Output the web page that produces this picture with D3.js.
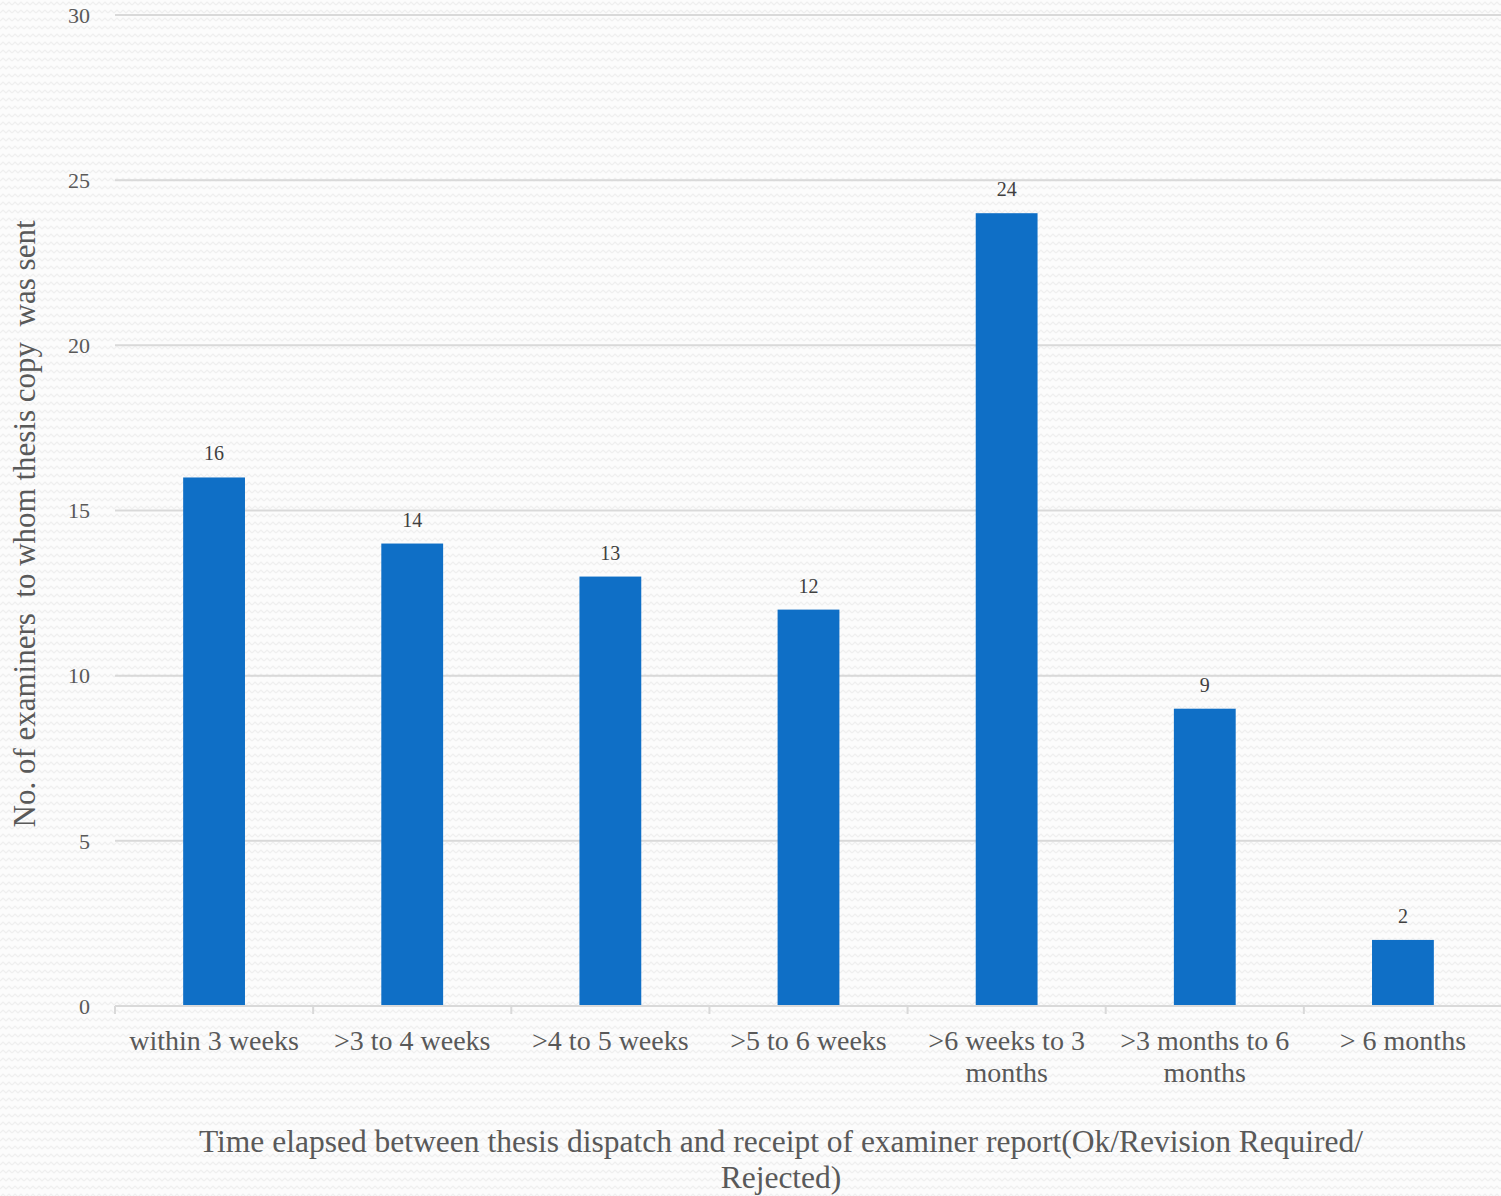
<!DOCTYPE html>
<html>
<head>
<meta charset="utf-8">
<script src="https://cdn.jsdelivr.net/npm/d3@7"></script>
<style>
html, body { margin: 0; padding: 0; background: #fbfbfb; }
svg { display: block; }
text { font-family: "Liberation Serif", "DejaVu Serif", serif; fill: #595959; }
</style>
</head>
<body>
<svg id="chart" width="1501" height="1196"></svg>
<script>
const categories = ["within 3 weeks", ">3 to 4 weeks", ">4 to 5 weeks", ">5 to 6 weeks", ">6 weeks to 3 months", ">3 months to 6 months", "> 6 months"];
const values = [16, 14, 13, 12, 24, 9, 2];
const yTicks = [0, 5, 10, 15, 20, 25, 30];
const yTitle = "No. of examiners  to whom thesis copy  was sent";
const xTitleLines = ["Time elapsed between thesis dispatch and receipt of examiner report(Ok/Revision Required/", "Rejected)"];

const W = 1501, H = 1196;
const svg = d3.select("#chart");

// background wavy texture
const defs = svg.append("defs");
const pat = defs.append("pattern").attr("id", "bgpat").attr("patternUnits", "userSpaceOnUse")
  .attr("width", 12).attr("height", 8);
pat.append("rect").attr("width", 12).attr("height", 8).attr("fill", "#fcfcfc");
pat.append("path").attr("d", "M0,5 L3,2 L6,5 L9,2 L12,5").attr("fill", "none")
  .attr("stroke", "#efefef").attr("stroke-width", 1.2);
svg.append("rect").attr("width", W).attr("height", H).attr("fill", "url(#bgpat)");

const mLeft = 115, mRight = 1502, mTop = 15, mBottom = 1006;
const x = d3.scaleBand().domain(categories).range([mLeft, mRight]).padding(0);
const y = d3.scaleLinear().domain([0, 30]).range([mBottom, mTop]);
const barW = x.bandwidth() * 0.312;

// gridlines
svg.append("g").selectAll("line").data(yTicks.filter(d => d > 0)).join("line")
  .attr("x1", mLeft).attr("x2", W)
  .attr("y1", d => y(d)).attr("y2", d => y(d))
  .attr("stroke", "#d9d9d9").attr("stroke-width", 2);

// y tick labels
svg.append("g").selectAll("text").data(yTicks).join("text")
  .attr("x", 90).attr("y", d => y(d)).attr("dy", "0.35em")
  .attr("text-anchor", "end").attr("font-size", 22)
  .text(d => d);

// bars
svg.append("g").selectAll("rect").data(values).join("rect")
  .attr("x", (d, i) => x(categories[i]) + x.bandwidth() / 2 - barW / 2)
  .attr("width", barW)
  .attr("y", d => y(d))
  .attr("height", d => y(0) - y(d))
  .attr("fill", "#0F6FC6");

// value labels
svg.append("g").selectAll("text").data(values).join("text")
  .attr("x", (d, i) => x(categories[i]) + x.bandwidth() / 2)
  .attr("y", d => y(d) - 17)
  .attr("text-anchor", "middle").attr("font-size", 20)
  .style("fill", "#404040")
  .text(d => d);

// x axis line and ticks
svg.append("line").attr("x1", mLeft).attr("x2", W).attr("y1", mBottom).attr("y2", mBottom)
  .attr("stroke", "#d9d9d9").attr("stroke-width", 2);
const bounds = categories.map(c => x(c)).concat([mRight]);
svg.append("g").selectAll("line").data(bounds).join("line")
  .attr("x1", d => d).attr("x2", d => d)
  .attr("y1", mBottom).attr("y2", mBottom + 8)
  .attr("stroke", "#d9d9d9").attr("stroke-width", 2);

// x category labels, wrapped
const xl = svg.append("g").selectAll("text").data(categories).join("text")
  .attr("text-anchor", "middle").attr("font-size", 28)
  .attr("x", d => x(d) + x.bandwidth() / 2)
  .attr("y", 1050);
xl.each(function(d) {
  const t = d3.select(this);
  const cx = x(d) + x.bandwidth() / 2;
  const words = d.split(" ");
  let lines = [], cur = [];
  const probe = t.append("tspan");
  words.forEach(w => {
    const test = cur.concat([w]).join(" ");
    probe.text(test);
    if (probe.node().getComputedTextLength() > 185 && cur.length) {
      lines.push(cur.join(" "));
      cur = [w];
    } else cur.push(w);
  });
  lines.push(cur.join(" "));
  probe.remove();
  lines.forEach((l, i) => {
    t.append("tspan").attr("x", cx).attr("y", 1050 + i * 32).text(l);
  });
});

// x title
svg.append("g").selectAll("text").data(xTitleLines).join("text")
  .attr("x", 781).attr("y", (d, i) => 1152 + i * 36)
  .attr("text-anchor", "middle").attr("font-size", 31.5)
  .text(d => d);

// y title
svg.append("text")
  .attr("transform", "translate(35,524) rotate(-90)")
  .attr("text-anchor", "middle").attr("font-size", 31)
  .style("white-space", "pre")
  .text(yTitle);
</script>
</body>
</html>
